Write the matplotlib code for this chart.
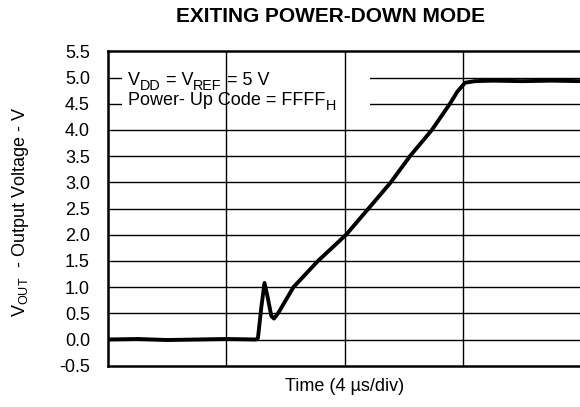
import matplotlib
matplotlib.use("Agg")
import matplotlib.pyplot as plt
from matplotlib.patches import Rectangle

plt.rcParams["font.family"] = ["Liberation Sans", "DejaVu Sans"]
plt.rcParams["mathtext.fontset"] = "custom"
plt.rcParams["mathtext.rm"] = "Liberation Sans"
plt.rcParams["mathtext.it"] = "Liberation Sans:italic"

# scope trace: time in us, output in V
time_us = [0.0, 1.0, 2.0, 3.0, 4.0, 5.0, 5.07, 5.18, 5.29, 5.40, 5.52, 5.61,
           5.75, 6.27, 7.1, 8.05, 9.2, 9.56, 10.21, 10.95, 11.56, 11.81,
           12.07, 12.4, 13.0, 14.0, 15.0, 16.0]
vout = [0.0, 0.01, -0.01, 0.0, 0.01, 0.0, 0.03, 0.6, 1.08, 0.8, 0.45, 0.40,
        0.5, 1.0, 1.5, 2.0, 2.76, 3.0, 3.5, 4.0, 4.5, 4.73,
        4.90, 4.93, 4.94, 4.93, 4.94, 4.93]

y_ticks = [-0.5, 0.0, 0.5, 1.0, 1.5, 2.0, 2.5, 3.0, 3.5, 4.0, 4.5, 5.0, 5.5]
x_divs = [4, 8, 12]

FS = 13


def rich_line(ax, x, y, pieces, zorder=4):
    """Draw text pieces left to right; pieces are (text, is_subscript)."""
    first, _ = pieces[0]
    prev = ax.text(x, y, first, fontsize=FS, ha="left", va="baseline",
                   zorder=zorder)
    prev_sub = False
    for txt, sub in pieces[1:]:
        dy = 0
        if sub and not prev_sub:
            dy = -3
        elif prev_sub and not sub:
            dy = 3
        prev = ax.annotate(txt, xy=(1, 0), xycoords=prev,
                           xytext=(0, dy), textcoords="offset points",
                           fontsize=FS * 0.8 if sub else FS,
                           ha="left", va="bottom", zorder=zorder)
        prev_sub = sub


fig = plt.figure(figsize=(5.8, 4.07), dpi=100)
ax = fig.add_axes([108 / 580, 41.3 / 407, 473.3 / 580, 314.4 / 407])

ax.set_xlim(0, 16)
ax.set_ylim(-0.5, 5.5)
ax.set_yticks(y_ticks)
ax.set_yticklabels([f"{v:.1f}" for v in y_ticks])
ax.set_xticks([])
ax.tick_params(axis="y", length=0, pad=13, labelsize=FS)

for v in y_ticks[1:-1]:
    ax.axhline(v, color="black", lw=1.0, zorder=1)

# white panel behind the condition text (breaks the horizontal grid only)
ax.add_patch(Rectangle((0.47, 4.25), 8.4, 1.05, facecolor="white",
                       edgecolor="none", zorder=2))
for x in x_divs:
    ax.axvline(x, color="black", lw=1.0, zorder=3)

rich_line(ax, 0.68, 4.857, [("V", False), ("DD", True), (" = V", False),
                            ("REF", True), (" = 5 V", False)])
rich_line(ax, 0.68, 4.475, [("Power- Up Code = FFFF", False), ("H", True)])

ax.plot(time_us, vout, color="black", lw=2.8, solid_joinstyle="round",
        zorder=5)

for s in ax.spines.values():
    s.set_linewidth(1.8)

ax.set_xlabel("Time (4 \u00b5s/div)", fontsize=FS, labelpad=9)
fig.text(21 / 580, 1 - 212 / 407, r"V$_{\mathrm{OUT}}$  - Output Voltage - V",
         fontsize=FS, rotation=90, ha="center", va="center")
fig.text(331 / 580, 1 - 16 / 407, "EXITING POWER-DOWN MODE",
         fontsize=15, fontweight="bold", ha="center", va="center")

fig.savefig("out.png", dpi=100, facecolor="white")
